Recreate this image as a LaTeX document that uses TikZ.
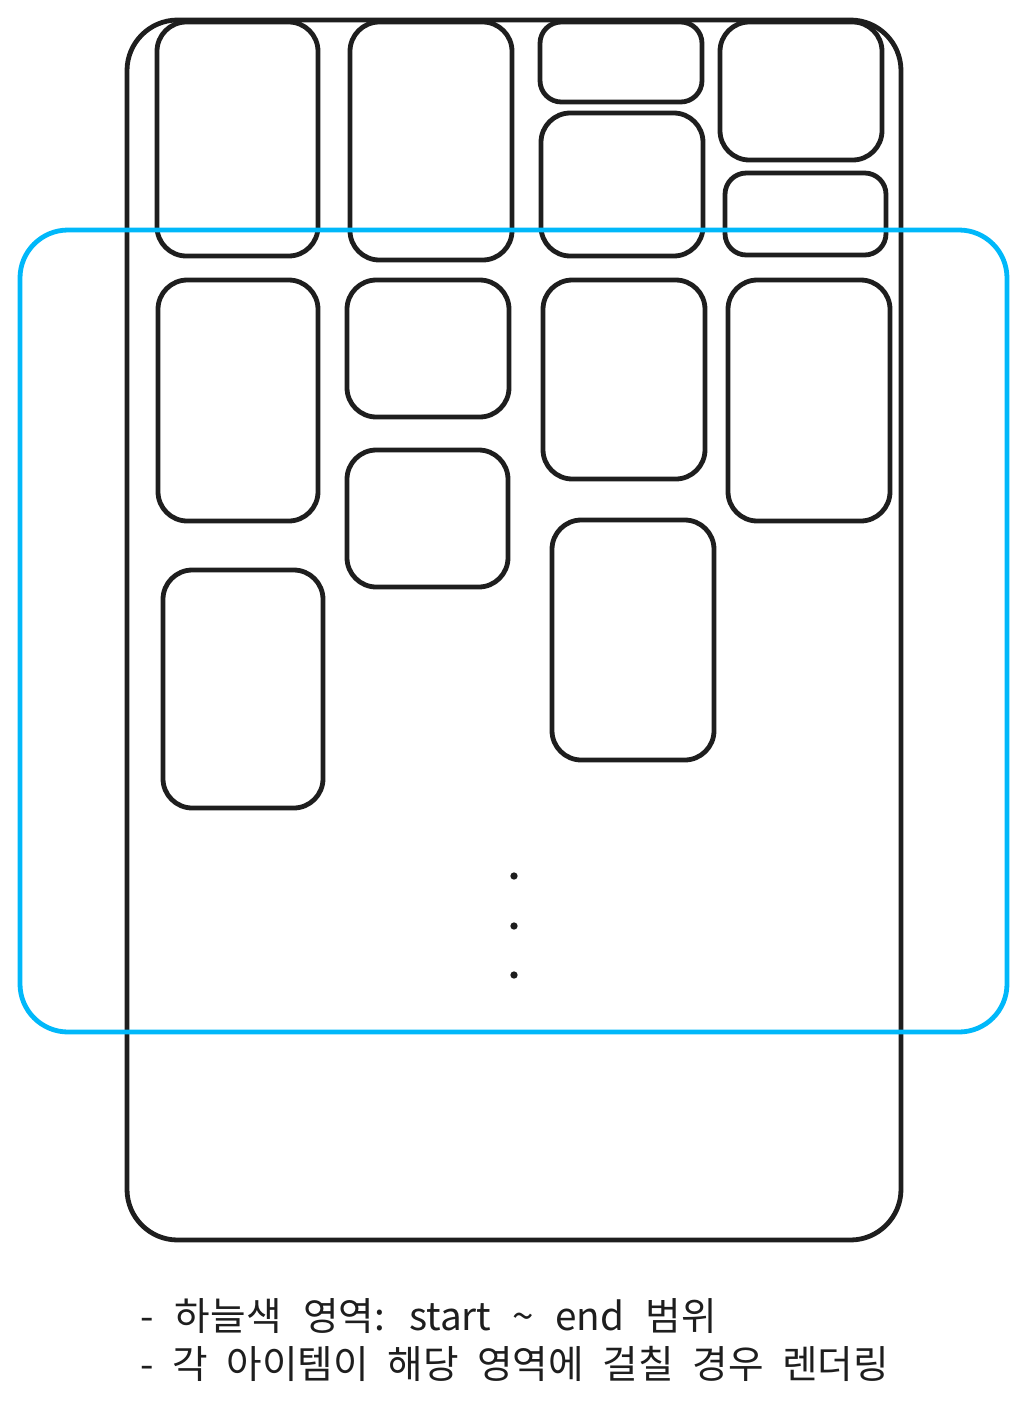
\documentclass[tikz,border=0pt]{standalone}
\usepackage{fontspec}
\newfontfamily\krfont{Noto Sans CJK KR}
\usetikzlibrary{fit}
\definecolor{ink}{RGB}{30,30,30}
\definecolor{sky}{RGB}{0,184,250}
\begin{document}
\begin{tikzpicture}[x=0.75pt,y=-0.75pt,
  box/.style={draw=ink,line width=3.6pt,rounded corners=22pt,inner sep=0pt},
  viewrange/.style={draw=sky,line width=3.6pt,rounded corners=36pt,inner sep=0pt},
  dotmark/.style={circle,fill=ink,inner sep=0pt,minimum size=5.5pt},
  note/.style={anchor=base west,inner sep=0pt,text=ink,font=\krfont\fontsize{29pt}{34pt}\selectfont}]
\useasboundingbox (0,0) rectangle (1027,1414);
% outer frame
\node[box,rounded corners=38pt,fit={(127,20) (901,1240)}] (frame) {};
% items
\node[box,fit={(157,22) (318,256)}] (a) {};
\node[box,fit={(158,280) (318,521)}] (b) {};
\node[box,fit={(163,570) (323,808)}] (c) {};
\node[box,fit={(350,22) (512,260)}] (d) {};
\node[box,fit={(347,280) (509,417)}] (e) {};
\node[box,fit={(347,450) (508,587)}] (f) {};
\node[box,rounded corners=16pt,fit={(540,22) (702,102)}] (g) {};
\node[box,fit={(541,113) (703,256)}] (h) {};
\node[box,fit={(543,280) (705,479)}] (i) {};
\node[box,fit={(552,520) (714,760)}] (j) {};
\node[box,fit={(720,22) (882,160)}] (k) {};
\node[box,rounded corners=16pt,fit={(725,173) (886,255)}] (l) {};
\node[box,fit={(728,280) (890,521)}] (m) {};
% visible range
\node[viewrange,fit={(20,230) (1007,1032)}] (visible) {};
% dots
\node[dotmark] (dot1) at (514,876) {};
\node[dotmark] (dot2) at (514,926) {};
\node[dotmark] (dot3) at (514,975) {};
% notes
\node[note] (note1) at (140,1330) {\spaceskip=16pt -\ 하늘색 영역: start \textasciitilde{} end 범위};
\node[note] (note2) at (140,1378) {\spaceskip=14pt -\ 각 아이템이 해당 영역에 걸칠 경우 렌더링};
\end{tikzpicture}
\end{document}
